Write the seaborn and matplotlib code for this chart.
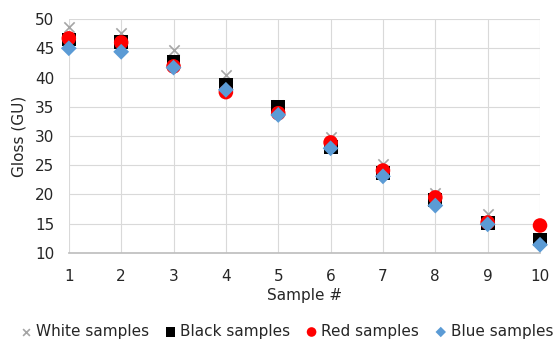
import matplotlib
matplotlib.use("Agg")
import matplotlib.pyplot as plt
import seaborn as sns
import pandas as pd

samples = [1, 2, 3, 4, 5, 6, 7, 8, 9, 10]
white = [48.6, 47.6, 44.7, 40.4, 35.3, 29.9, 25.2, 20.3, 16.7, 12.6]
black = [46.5, 46.1, 42.6, 38.7, 35.0, 28.1, 23.7, 19.1, 15.1, 12.3]
red = [46.7, 46.0, 41.9, 37.5, 33.9, 28.9, 24.1, 19.5, 15.2, 14.7]
blue = [45.0, 44.4, 41.7, 37.9, 33.6, 27.9, 23.1, 18.1, 14.9, 11.4]
names = ["White samples", "Black samples", "Red samples", "Blue samples"]

sns.set_theme(style="white")
plt.rcParams['font.family'] = ['DejaVu Sans']

fig = plt.figure(figsize=(5.55, 3.4), dpi=100)
ax = fig.add_axes([0.124, 0.256, 0.849, 0.688])

styles = [
    dict(marker="x", color="#A5A5A5", s=55, linewidth=1.2),
    dict(marker="s", color="#000000", s=100, linewidth=0),
    dict(marker="o", color="#FF0000", s=110, linewidth=0),
    dict(marker="D", color="#5B9BD5", s=65, linewidth=0),
]
for vals, name, st in zip([white, black, red, blue], names, styles):
    df = pd.DataFrame({"Sample": samples, "Gloss": vals})
    sns.scatterplot(data=df, x="Sample", y="Gloss", ax=ax, label=name,
                    marker=st["marker"], color=st["color"], s=st["s"],
                    linewidth=st["linewidth"], edgecolor=st["color"] if st["marker"] == "x" else "none",
                    clip_on=False, zorder=3)

ax.set_xlim(1, 10)
ax.set_ylim(10, 50)
ax.set_xticks(samples)
ax.set_yticks(range(10, 51, 5))
ax.grid(True, color="#D9D9D9", linewidth=0.8)
ax.set_axisbelow(True)
for side in ["top", "right", "left"]:
    ax.spines[side].set_visible(False)
ax.spines["bottom"].set_color("#BFBFBF")
ax.tick_params(axis="y", length=0, labelsize=11, colors="#262626", pad=10.5)
ax.tick_params(axis="x", length=0, labelsize=11, colors="#262626", pad=11.5)
ax.set_xlabel("Sample #", fontsize=11, color="#262626", labelpad=3)
ax.set_ylabel("Gloss (GU)", fontsize=11, color="#262626", labelpad=6)

ax.get_legend().remove()
handles, labels = ax.get_legend_handles_labels()
leg = fig.legend(handles, labels, loc="center", bbox_to_anchor=(0.516, 0.025),
                 ncol=4, frameon=False, fontsize=11, handlelength=0.8,
                 handletextpad=0.25, columnspacing=1.0, markerscale=0.66,
                 borderaxespad=0.0, borderpad=0.0)
for t in leg.get_texts():
    t.set_color("#262626")

fig.savefig("out.png", dpi=100)
